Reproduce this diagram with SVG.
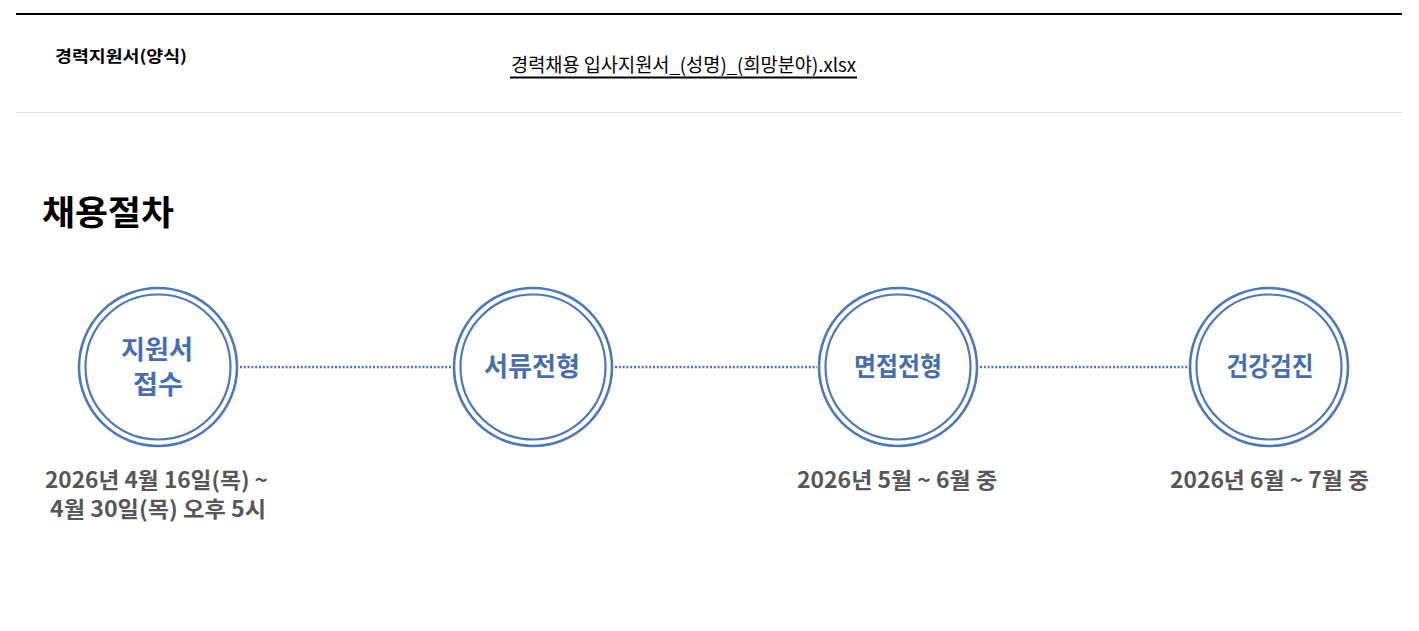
<svg xmlns="http://www.w3.org/2000/svg" width="1419" height="631" viewBox="0 0 1419 631">
<style>
.ring{fill:none;stroke:#4f78b4;stroke-width:2.6}
.ringin{fill:none;stroke:#4f78b4;stroke-width:2.2}
.step{font-family:"Noto Sans CJK KR","Noto Sans",sans-serif;font-weight:bold;font-size:26px;fill:#4a6fa8;text-anchor:middle}
.date{font-family:"Noto Sans CJK KR","Noto Sans",sans-serif;font-weight:bold;font-size:22px;fill:#575757}
.dot{stroke:#4f78b4;stroke-width:2.4;stroke-dasharray:2 1.8;fill:none}
</style>
<rect width="1419" height="631" fill="#ffffff"/>
<g id="header">
<line x1="16" y1="14" x2="1402" y2="14" stroke="#000" stroke-width="2"/>
<text x="55" y="62" font-family="'Noto Sans CJK KR','Noto Sans',sans-serif" font-weight="bold" font-size="16" fill="#000" textLength="132" lengthAdjust="spacingAndGlyphs">경력지원서(양식)</text>
<text x="511" y="72" font-family="'Noto Sans CJK KR','Noto Sans',sans-serif" font-size="19" fill="#000" textLength="345" lengthAdjust="spacingAndGlyphs">경력채용 입사지원서_(성명)_(희망분야).xlsx</text>
<line x1="510" y1="77.5" x2="857" y2="77.5" stroke="#000" stroke-width="2"/>
<line x1="16" y1="112.5" x2="1402" y2="112.5" stroke="#e3e3e3" stroke-width="1"/>
<text x="42" y="225" font-family="'Noto Sans CJK KR','Noto Sans',sans-serif" font-weight="bold" font-size="34" fill="#000" textLength="132" lengthAdjust="spacingAndGlyphs">채용절차</text>
</g>
<g id="connectors">
<line class="dot" x1="240" y1="367" x2="452" y2="367"/>
<line class="dot" x1="615" y1="367" x2="817" y2="367"/>
<line class="dot" x1="980" y1="367" x2="1188" y2="367"/>
</g>
<g id="step1">
<circle class="ring" cx="158" cy="367" r="79"/>
<circle class="ringin" cx="158" cy="367" r="72.5"/>
<text class="step" x="157" y="359" font-size="25" textLength="72" lengthAdjust="spacingAndGlyphs">지원서</text>
<text class="step" x="158" y="394" font-size="25" textLength="50" lengthAdjust="spacingAndGlyphs">접수</text>
<text class="date" x="45" y="488" textLength="223" lengthAdjust="spacingAndGlyphs">2026년 4월 16일(목) ~</text>
<text class="date" x="50" y="517" textLength="216" lengthAdjust="spacingAndGlyphs">4월 30일(목) 오후 5시</text>
</g>
<g id="step2">
<circle class="ring" cx="533" cy="367" r="79"/>
<circle class="ringin" cx="533" cy="367" r="72.5"/>
<text class="step" x="532" y="376" textLength="96" lengthAdjust="spacingAndGlyphs">서류전형</text>
</g>
<g id="step3">
<circle class="ring" cx="898" cy="367" r="79"/>
<circle class="ringin" cx="898" cy="367" r="72.5"/>
<text class="step" x="898" y="376" textLength="88" lengthAdjust="spacingAndGlyphs">면접전형</text>
<text class="date" x="797" y="488" textLength="200" lengthAdjust="spacingAndGlyphs">2026년 5월 ~ 6월 중</text>
</g>
<g id="step4">
<circle class="ring" cx="1269" cy="367" r="79"/>
<circle class="ringin" cx="1269" cy="367" r="72.5"/>
<text class="step" x="1270" y="376" textLength="87" lengthAdjust="spacingAndGlyphs">건강검진</text>
<text class="date" x="1170" y="488" textLength="199" lengthAdjust="spacingAndGlyphs">2026년 6월 ~ 7월 중</text>
</g>
</svg>
